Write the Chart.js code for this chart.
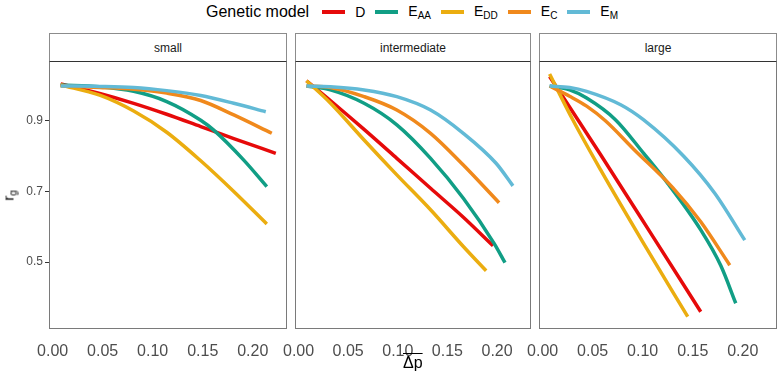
<!DOCTYPE html>
<html>
<head>
<meta charset="utf-8">
<script src="https://cdn.jsdelivr.net/npm/chart.js@4.4.0/dist/chart.umd.min.js"></script>
<style>
body { margin: 0; background: #fff; font-family: "Liberation Sans", Arial, sans-serif; }
#wrap { position: relative; width: 777px; height: 376px; overflow: hidden; }
canvas { position: absolute; top: 61px; }
.strip { position: absolute; top: 33px; height: 29px; box-sizing: border-box; border: 1px solid #8c8c8c; border-bottom: 1px solid #333; font-size: 12px; color: #1a1a1a; display: flex; align-items: center; justify-content: center; background: #fff; }
#legend { position: absolute; top: 3px; left: 206px; display: flex; align-items: center; white-space: nowrap; }
#legend .ttl { font-size: 16px; color: #000; margin-right: 13px; }
#legend .key { width: 23px; height: 4px; margin-right: 10px; }
#legend .lab { font-size: 14px; color: #000; margin-right: 10px; }
#legend sub { font-size: 10px; vertical-align: -3px; }
#ytitle { position: absolute; left: 0px; top: 186px; width: 18px; transform: rotate(-90deg); font-size: 15px; text-align: center; color: #000; }
#ytitle sub { font-size: 10px; vertical-align: -3px; }
#xtitle { position: absolute; top: 354px; left: 403px; font-size: 16px; color: #000; text-decoration: overline; }
</style>
</head>
<body>
<div id="wrap">
  <div id="legend">
    <span class="ttl">Genetic model</span>
    <span class="key" style="background:#E60A0A"></span><span class="lab">D</span>
    <span class="key" style="background:#119E85"></span><span class="lab">E<sub>AA</sub></span>
    <span class="key" style="background:#EBAD10"></span><span class="lab">E<sub>DD</sub></span>
    <span class="key" style="background:#F0891C"></span><span class="lab">E<sub>C</sub></span>
    <span class="key" style="background:#62BAD6"></span><span class="lab">E<sub>M</sub></span>
  </div>
  <canvas id="c1" width="287" height="315" style="left:0px"></canvas>
  <canvas id="c2" width="256" height="315" style="left:275px"></canvas>
  <canvas id="c3" width="258" height="315" style="left:519px"></canvas>
  <div class="strip" style="left:49px;width:238px">small</div>
  <div class="strip" style="left:295px;width:236px">intermediate</div>
  <div class="strip" style="left:539px;width:238px">large</div>
  <div id="ytitle">r<sub>g</sub></div>
  <div id="xtitle">Δp</div>
</div>
<script>
// facet labels, models and colours
const panelNames = ['small', 'intermediate', 'large'];
const models = ['D', 'E_AA', 'E_DD', 'E_C', 'E_M'];
const colors = ['#E60A0A', '#119E85', '#EBAD10', '#F0891C', '#62BAD6'];

// axis ticks
const xTicks = [0, 0.05, 0.10, 0.15, 0.20];
const yTicks = [0.5, 0.7, 0.9];

// [delta p, r_g] pairs
const smallD   = [[0.008,1.005],[0.047,0.978],[0.081,0.950],[0.114,0.919],[0.148,0.884],[0.181,0.850],[0.223,0.808]];
const smallEAA = [[0.008,1.002],[0.047,0.997],[0.081,0.984],[0.114,0.955],[0.148,0.902],[0.161,0.874],[0.191,0.789],[0.214,0.714]];
const smallEDD = [[0.008,1.002],[0.047,0.973],[0.081,0.928],[0.114,0.868],[0.148,0.787],[0.181,0.700],[0.214,0.608]];
const smallEC  = [[0.008,0.999],[0.047,0.995],[0.081,0.990],[0.114,0.979],[0.148,0.958],[0.181,0.917],[0.219,0.865]];
const smallEM  = [[0.008,0.999],[0.047,0.998],[0.081,0.995],[0.114,0.986],[0.148,0.972],[0.181,0.950],[0.213,0.926]];

const interD   = [[0.008,1.014],[0.032,0.958],[0.066,0.876],[0.099,0.794],[0.133,0.709],[0.166,0.627],[0.196,0.546]];
const interEAA = [[0.008,0.999],[0.032,0.988],[0.066,0.950],[0.099,0.889],[0.133,0.794],[0.166,0.681],[0.197,0.553],[0.208,0.498]];
const interEDD = [[0.008,1.014],[0.032,0.951],[0.066,0.846],[0.099,0.747],[0.133,0.648],[0.166,0.544],[0.189,0.475]];
const interEC  = [[0.008,0.999],[0.032,0.995],[0.066,0.969],[0.099,0.931],[0.133,0.865],[0.166,0.775],[0.202,0.668]];
const interEM  = [[0.008,0.999],[0.032,0.997],[0.066,0.988],[0.099,0.969],[0.133,0.931],[0.166,0.865],[0.199,0.780],[0.216,0.716]];

const largeD   = [[0.007,1.026],[0.058,0.804],[0.108,0.582],[0.158,0.359]];
const largeEAA = [[0.007,0.999],[0.027,0.988],[0.044,0.965],[0.073,0.903],[0.101,0.808],[0.125,0.723],[0.158,0.591],[0.178,0.490],[0.193,0.383]];
const largeEDD = [[0.007,1.033],[0.030,0.904],[0.058,0.761],[0.100,0.557],[0.145,0.345]];
const largeEC  = [[0.007,0.999],[0.027,0.970],[0.044,0.942],[0.063,0.900],[0.091,0.820],[0.130,0.711],[0.158,0.614],[0.187,0.491]];
const largeEM  = [[0.007,0.999],[0.027,0.995],[0.044,0.984],[0.078,0.946],[0.101,0.903],[0.141,0.800],[0.172,0.695],[0.202,0.562]];

const panelSeries = [
  [smallD, smallEAA, smallEDD, smallEC, smallEM],
  [interD, interEAA, interEDD, interEC, interEM],
  [largeD, largeEAA, largeEDD, largeEC, largeEM]
];

const panelBorder = {
  id: 'panelBorder',
  afterDraw(chart) {
    const a = chart.chartArea;
    const ctx = chart.ctx;
    ctx.save();
    ctx.strokeStyle = '#7a7a7a';
    ctx.lineWidth = 1;
    ctx.strokeRect(a.left + 0.5, a.top + 0.5, a.right - a.left - 1, a.bottom - a.top - 1);
    ctx.restore();
  }
};

function makePanel(canvasId, series, yWidth, showY) {
  const ctx = document.getElementById(canvasId).getContext('2d');
  return new Chart(ctx, {
    type: 'line',
    data: {
      datasets: series.map((pts, i) => ({
        label: models[i],
        data: pts.map(p => ({ x: p[0], y: p[1] })),
        borderColor: colors[i],
        borderWidth: 3.5,
        pointRadius: 0,
        fill: false,
        cubicInterpolationMode: 'monotone',
        order: models.length - i
      }))
    },
    options: {
      responsive: false,
      animation: false,
      layout: { padding: 0 },
      plugins: { legend: { display: false }, tooltip: { enabled: false } },
      scales: {
        x: {
          type: 'linear',
          min: -0.0036,
          max: 0.2342,
          afterBuildTicks: s => { s.ticks = xTicks.map(v => ({ value: v })); },
          afterFit: s => { s.height = 47; s.paddingLeft = 0; s.paddingRight = 0; },
          grid: { display: false },
          border: { display: false },
          ticks: {
            padding: 5,
            color: '#4d4d4d',
            font: { family: 'Liberation Sans', size: 16 },
            callback: v => v.toFixed(2),
            maxRotation: 0
          }
        },
        y: {
          type: 'linear',
          min: 0.31,
          max: 1.07,
          afterBuildTicks: s => { s.ticks = yTicks.map(v => ({ value: v })); },
          afterFit: s => { s.width = yWidth; s.paddingTop = 0; s.paddingBottom = 0; },
          grid: { display: showY, drawOnChartArea: false, drawTicks: true, tickLength: 4, color: '#333' },
          border: { display: false },
          ticks: {
            display: showY,
            padding: 2,
            color: '#4d4d4d',
            font: { family: 'Liberation Sans', size: 12 },
            callback: v => v.toFixed(1)
          }
        }
      }
    },
    plugins: [panelBorder]
  });
}

makePanel('c1', panelSeries[0], 49, true);
makePanel('c2', panelSeries[1], 20, false);
makePanel('c3', panelSeries[2], 20, false);
</script>
</body>
</html>
